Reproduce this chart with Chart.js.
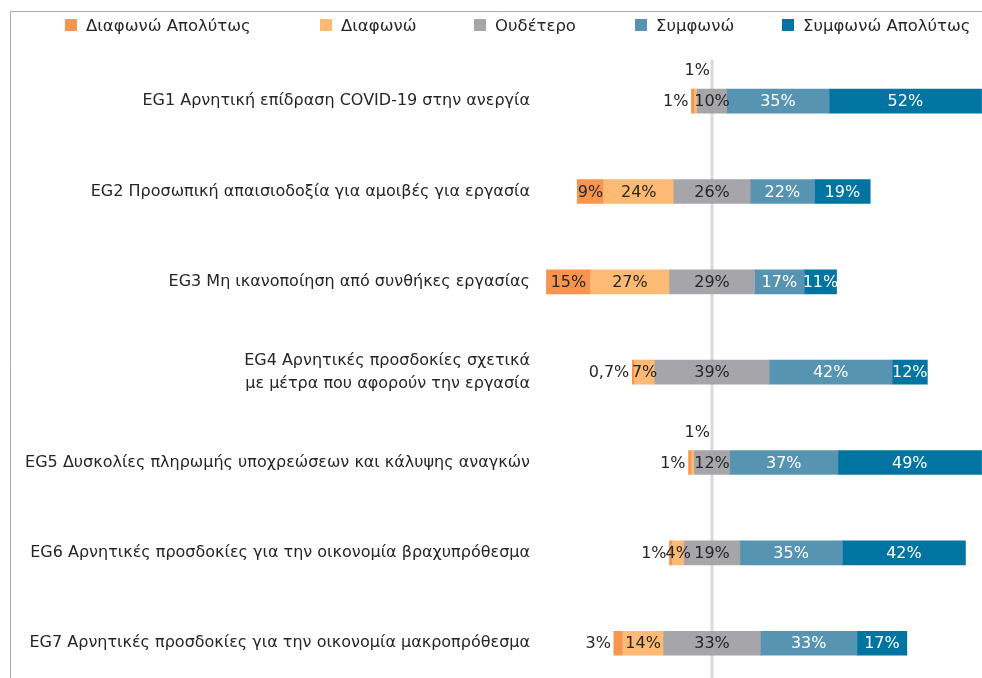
<!DOCTYPE html>
<html>
<head>
<meta charset="utf-8">
<script src="https://cdn.jsdelivr.net/npm/chart.js@4.4.1/dist/chart.umd.min.js"></script>
<style>
  html, body { margin: 0; padding: 0; background: #fff; overflow: hidden; }
  #wrap { position: relative; width: 982px; height: 678px; overflow: hidden; }
  #chart { position: absolute; left: 0; top: 0; }
  #legend { position: absolute; left: 0; top: 15px; width: 982px; height: 20px;
    font: 16.5px "DejaVu Sans", sans-serif; color: #262626; }
  #legend .item { position: absolute; top: 0; display: flex; align-items: center; white-space: nowrap; height: 20px; }
  #legend .box { width: 12px; height: 12px; margin-right: 9px; }
</style>
</head>
<body>
<div id="wrap">
  <canvas id="chart" width="982" height="710"></canvas>
  <div id="legend"></div>
</div>
<script>
const categories = [
  "EG1 Αρνητική επίδραση COVID-19 στην ανεργία",
  "EG2 Προσωπική απαισιοδοξία για αμοιβές για εργασία",
  "EG3 Μη ικανοποίηση από συνθήκες εργασίας",
  ["EG4 Αρνητικές προσδοκίες σχετικά", "με μέτρα που αφορούν την εργασία"],
  "EG5 Δυσκολίες πληρωμής υποχρεώσεων και κάλυψης αναγκών",
  "EG6 Αρνητικές προσδοκίες για την οικονομία βραχυπρόθεσμα",
  "EG7 Αρνητικές προσδοκίες για την οικονομία μακροπρόθεσμα"
];

const seriesNames = ["Διαφωνώ Απολύτως", "Διαφωνώ", "Ουδέτερο", "Συμφωνώ", "Συμφωνώ Απολύτως"];

const stronglyDisagree = [1, 9, 15, 0.7, 1, 1, 3];
const disagree = [1, 24, 27, 7, 1, 4, 14];
const neutral = [10, 26, 29, 39, 12, 19, 33];
const agree = [35, 22, 17, 42, 37, 35, 33];
const stronglyAgree = [52, 19, 11, 12, 49, 42, 17];

const colors = ["#F79550", "#FCBA74", "#A6A6AA", "#5794B2", "#0174A2"];
const textDark = "#262626";
const labelFont = '16px "DejaVu Sans", sans-serif';

// legend (html), box x positions
const legendX = [65, 320, 474, 635, 782];
const legendEl = document.getElementById("legend");
seriesNames.forEach((name, k) => {
  const item = document.createElement("div");
  item.className = "item";
  item.style.left = legendX[k] + "px";
  item.innerHTML = '<span class="box" style="background:' + colors[k] + '"></span><span>' + name + '</span>';
  legendEl.appendChild(item);
});

// neutral is split around zero, disagree side goes negative
const neutralLeft = neutral.map(v => -v / 2);
const neutralRight = neutral.map(v => v / 2);
const disagreeNeg = disagree.map(v => -v);
const stronglyDisagreeNeg = stronglyDisagree.map(v => -v);

function fmt(v) {
  return String(v).replace(".", ",") + "%";
}

const framePlugin = {
  id: "frame",
  beforeDraw(chart) {
    const ctx = chart.ctx;
    ctx.save();
    ctx.strokeStyle = "#ababab";
    ctx.lineWidth = 1;
    ctx.beginPath();
    ctx.moveTo(10.5, chart.height);
    ctx.lineTo(10.5, 11.5);
    ctx.lineTo(chart.width, 11.5);
    ctx.stroke();
    ctx.restore();
  }
};

const zeroLinePlugin = {
  id: "zeroLine",
  beforeDatasetsDraw(chart) {
    const ctx = chart.ctx;
    const x0 = chart.scales.x.getPixelForValue(0);
    ctx.save();
    ctx.strokeStyle = "#d9d9d9";
    ctx.lineWidth = 3;
    ctx.beginPath();
    ctx.moveTo(x0, 60);
    ctx.lineTo(x0, chart.height);
    ctx.stroke();
    ctx.restore();
  }
};

const segmentLabels = {
  id: "segmentLabels",
  afterDatasetsDraw(chart) {
    const ctx = chart.ctx;
    const x0 = chart.scales.x.getPixelForValue(0);
    const el = (ds, i) => chart.getDatasetMeta(ds).data[i];
    ctx.save();
    ctx.font = labelFont;
    ctx.textBaseline = "middle";

    categories.forEach((_, i) => {
      const y = el(0, i).y + 1;

      // neutral, centred on zero
      ctx.fillStyle = textDark;
      ctx.textAlign = "center";
      ctx.fillText(fmt(neutral[i]), x0, y);

      // agree side
      ctx.fillStyle = "#ffffff";
      [[4, agree], [5, stronglyAgree]].forEach(([ds, vals]) => {
        const b = el(ds, i);
        ctx.fillText(fmt(vals[i]), (b.x + b.base) / 2, y);
      });

      // disagree
      ctx.fillStyle = textDark;
      const d = el(1, i);
      if (disagree[i] <= 1) {
        ctx.textAlign = "right";
        ctx.fillText(fmt(disagree[i]), x0 - 2, y - 31);
      } else {
        ctx.textAlign = "center";
        ctx.fillText(fmt(disagree[i]), (d.x + d.base) / 2, y);
      }

      // strongly disagree
      const sd = el(2, i);
      if (stronglyDisagree[i] < 5) {
        ctx.textAlign = "right";
        ctx.fillText(fmt(stronglyDisagree[i]), Math.min(sd.x, sd.base) - 3, y);
      } else {
        ctx.textAlign = "center";
        ctx.fillText(fmt(stronglyDisagree[i]), (sd.x + sd.base) / 2, y);
      }
    });
    ctx.restore();
  }
};

const barOpts = { barThickness: 24, borderWidth: 0, stack: "s" };

new Chart(document.getElementById("chart"), {
  type: "bar",
  data: {
    labels: categories,
    datasets: [
      { label: seriesNames[2], data: neutralLeft, backgroundColor: colors[2], ...barOpts },
      { label: seriesNames[1], data: disagreeNeg, backgroundColor: colors[1], ...barOpts },
      { label: seriesNames[0], data: stronglyDisagreeNeg, backgroundColor: colors[0], ...barOpts },
      { label: seriesNames[2], data: neutralRight, backgroundColor: colors[2], ...barOpts },
      { label: seriesNames[3], data: agree, backgroundColor: colors[3], ...barOpts },
      { label: seriesNames[4], data: stronglyAgree, backgroundColor: colors[4], ...barOpts }
    ]
  },
  options: {
    indexAxis: "y",
    responsive: false,
    animation: false,
    layout: { padding: { top: 56, bottom: 12, left: 0, right: 0 } },
    scales: {
      x: {
        display: false,
        stacked: true,
        min: -58.7,
        max: 92.15
      },
      y: {
        stacked: true,
        grid: { display: false, drawTicks: false },
        border: { display: false },
        ticks: {
          color: textDark,
          padding: 10,
          font: { family: '"DejaVu Sans", sans-serif', size: 16, lineHeight: 1.45 }
        },
        afterFit(scale) {
          scale.width = 540;
        }
      }
    },
    plugins: {
      legend: { display: false },
      tooltip: { enabled: false }
    }
  },
  plugins: [framePlugin, zeroLinePlugin, segmentLabels]
});
</script>
</body>
</html>
